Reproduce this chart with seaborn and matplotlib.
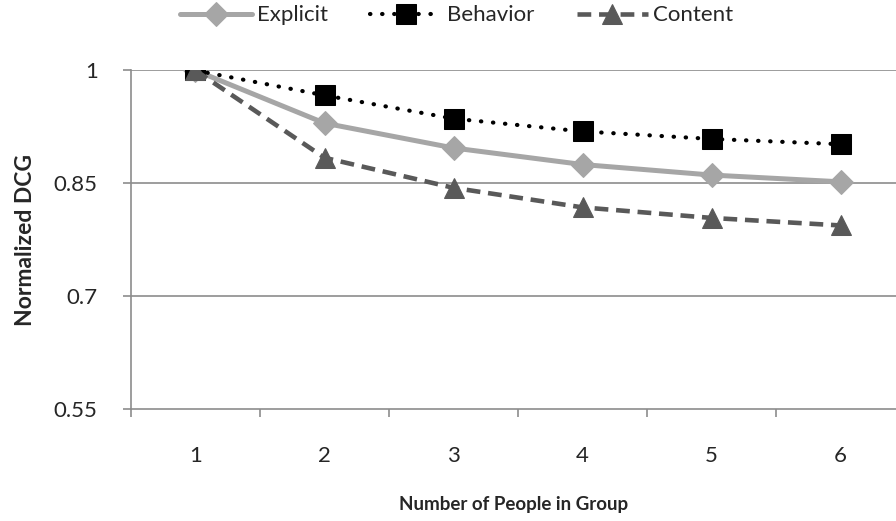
import matplotlib
matplotlib.use("Agg")
import matplotlib.pyplot as plt
import seaborn as sns

# values
group_size = [1, 2, 3, 4, 5, 6]
explicit = [1.0, 0.930, 0.897, 0.875, 0.861, 0.852]
behavior = [1.0, 0.967, 0.936, 0.919, 0.909, 0.902]
content = [1.0, 0.884, 0.844, 0.818, 0.804, 0.794]
y_ticks = [0.55, 0.7, 0.85, 1.0]
y_tick_labels = ["0.55", "0.7", "0.85", "1"]

sns.set_style("white")
plt.rcParams['font.family'] = ['Lato', 'DejaVu Sans']

fig = plt.figure(figsize=(8.96, 5.21), dpi=100)
ax = fig.add_axes([0.1462, 0.215, 0.8538, 0.6497])

# horizontal gridlines first so the series sit on top
for yv in y_ticks[1:]:
    ax.axhline(yv, color="#8c8c8c", lw=1.2, zorder=0)

sns.lineplot(x=group_size, y=explicit, ax=ax, color="#a6a6a6", lw=3.6,
             marker="D", markersize=12, markeredgecolor="#a6a6a6", label="Explicit")
sns.lineplot(x=group_size, y=behavior, ax=ax, color="black", lw=3,
             linestyle=(0, (0.1, 2.8)), dash_capstyle="round",
             marker="s", markersize=14, markeredgecolor="black", label="Behavior")
sns.lineplot(x=group_size, y=content, ax=ax, color="#595959", lw=3.3,
             linestyle=(0, (3.0, 1.7)), marker="^", markersize=15,
             markeredgecolor="#595959", label="Content")

ax.set_xlim(0.5, 6.43)
ax.set_ylim(0.55, 1.0)
ax.set_yticks(y_ticks)
ax.set_yticklabels(y_tick_labels)
ax.set_xticks(group_size)
ax.set_xticklabels([str(g) for g in group_size])
ax.set_xticks([b + 0.5 for b in range(0, 6)], minor=True)

ax.tick_params(axis="x", which="major", length=0, pad=27, labelsize=16)
ax.tick_params(axis="x", which="minor", length=6, width=1.2, color="#8c8c8c", direction="out", bottom=True)
ax.tick_params(axis="y", which="major", length=6, width=1.2, color="#8c8c8c", direction="out", left=True,
               pad=18, labelsize=16)

for side in ["top", "right"]:
    ax.spines[side].set_visible(False)
for side in ["left", "bottom"]:
    ax.spines[side].set_color("#8c8c8c")
    ax.spines[side].set_linewidth(1.2)

ax.set_xlabel("Number of People in Group", fontsize=13.5, fontweight="bold", labelpad=21)
ax.set_ylabel("Normalized DCG", fontsize=16.5, fontweight="bold", labelpad=13)

ax.legend(loc="center", bbox_to_anchor=(0.426, 1.163), ncol=3, frameon=False,
          fontsize=16, handlelength=3.2, columnspacing=1.9, handletextpad=0.25)

fig.savefig("out.png", dpi=100)
